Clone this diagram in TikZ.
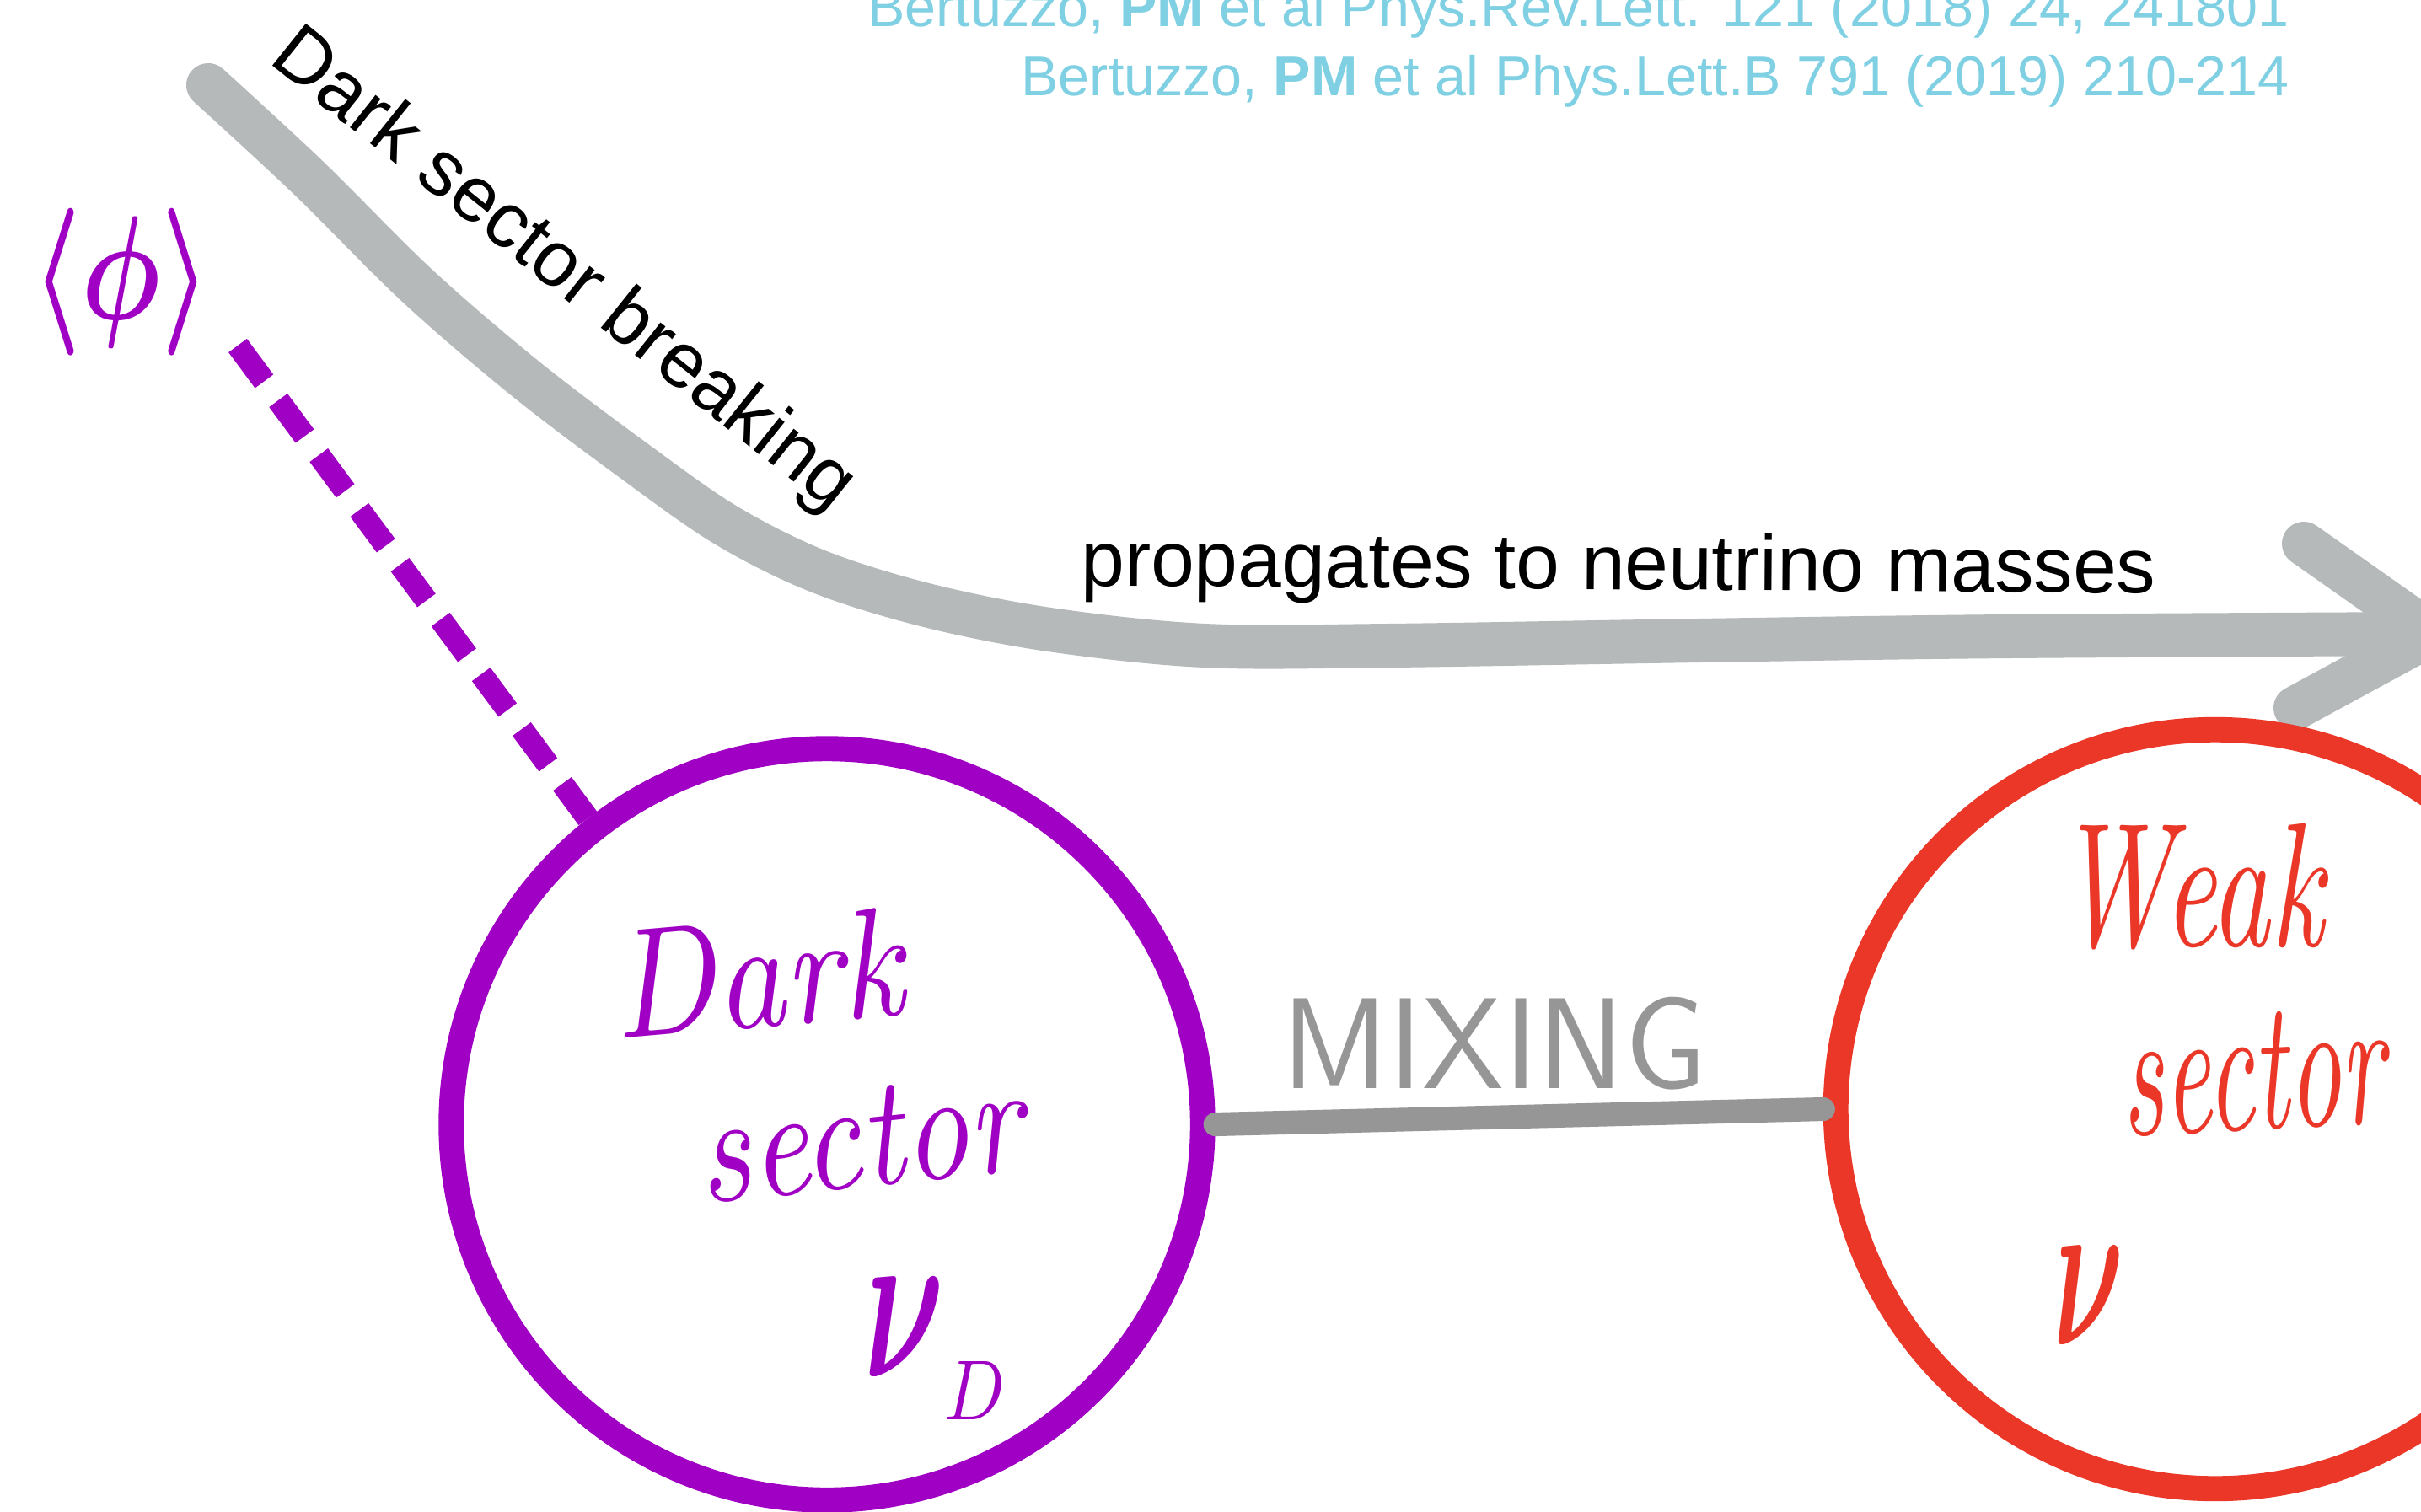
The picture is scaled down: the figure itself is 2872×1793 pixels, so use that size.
\documentclass[tikz,border=0pt]{standalone}
\usepackage{fontspec}
\usepackage{graphicx}
\newfontfamily\arial{Liberation Sans}
\definecolor{citeblue}{RGB}{128,208,228}
\definecolor{dpurple}{RGB}{160,0,196}
\definecolor{wred}{RGB}{234,55,40}
\definecolor{arrowgray}{RGB}{181,185,185}
\definecolor{mixgray}{RGB}{150,150,150}
\begin{document}
\begin{tikzpicture}[x=0.01cm,y=-0.01cm,
  sectorcircle/.style={circle, line width=8.5pt, inner sep=0pt, fill=none},
  bigarrow/.style={draw=arrowgray, line width=14.8pt, line cap=round, line join=round},
  vevline/.style={draw=dpurple, line width=7.7pt, dash pattern=on 15pt off 8pt},
  mixline/.style={draw=mixgray, line width=8pt, line cap=round},
  hand/.style={inner sep=0pt, outer sep=0pt},
  citetext/.style={anchor=base east, inner sep=0pt, text=citeblue, font=\arial\fontsize{18.9}{22}\selectfont},
  labeltext/.style={anchor=base west, inner sep=0pt, text=black, font=\arial\fontsize{26.4}{30}\selectfont}]
\useasboundingbox (0,0) rectangle (2872,1793);
\clip (0,0) rectangle (2872,1793);
\fill[white] (0,0) rectangle (2872,1793);

% citations
\node[citetext] (cite1) at (2716,31) {Bertuzzo, \textbf{PM} et al Phys.Rev.Lett. 121 (2018) 24, 241801};
\node[citetext] (cite2) at (2716,113) {Bertuzzo, \textbf{PM} et al Phys.Lett.B 791 (2019) 210-214};

% big gray arrow
\coordinate (arrstart) at (247,101);
\coordinate (tip) at (2885,752);
\coordinate (ub) at (2733,645);
\coordinate (lb) at (2723,840);
\draw[bigarrow] plot[smooth, tension=0.55] coordinates {(247,101) (366,211) (495,339) (623,449) (751,546) (861,623) (971,678) (1099,718) (1245,747) (1429,766) (1648,766) (2015,760) (2381,755) (2885,752)};
\draw[bigarrow] (ub) -- (tip) -- (lb);

% labels of the arrow
\node[labeltext, rotate=-38.6] (breaking) at (317,73) {Dark sector breaking};
\node[labeltext, rotate=-0.4] (propagates) at (1282,695) {propagates to neutrino masses};

% sectors
\node[sectorcircle, draw=dpurple, minimum size=8.91cm] (dark) at (981,1334) {};
\node[sectorcircle, draw=wred, minimum size=9.0cm] (weak) at (2628,1316) {};

% vev
\node[hand, text=dpurple] (vev) at (144,335) {\resizebox*{2.12cm}{1.75cm}{\boldmath$\langle\phi\rangle$}};
\coordinate (vevtop) at (282,410);
\draw[vevline] (vevtop) -- (dark.128);

% mixing
\draw[mixline] (dark.east) -- (weak.west);
\node[hand, text=mixgray] (mixing) at (1772,1238) {\resizebox*{5.03cm}{1.10cm}{\sffamily MIXING}};

% handwritten texts
\node[hand, text=dpurple, rotate=5] (darkw) at (898,1155) {\resizebox*{3.45cm}{1.30cm}{\itshape Dark}};
\node[hand, text=dpurple, rotate=6] (darks) at (1019,1351) {\resizebox*{3.85cm}{1.18cm}{\itshape sector}};
\node[hand, text=dpurple] (nuD) at (1073,1575) {\resizebox*{0.95cm}{1.17cm}{\boldmath$\nu$}};
\node[hand, text=dpurple] (subD) at (1157,1650) {\resizebox*{0.72cm}{0.69cm}{$D$}};

\node[hand, text=wred] (weakw) at (2598,1052) {\resizebox*{3.16cm}{1.50cm}{\itshape Weak}};
\node[hand, text=wred, rotate=3] (weaks) at (2672,1272) {\resizebox*{3.12cm}{1.40cm}{\itshape sector}};
\node[hand, text=wred] (nuW) at (2478,1537) {\resizebox*{0.83cm}{1.16cm}{\boldmath$\nu$}};
\end{tikzpicture}
\end{document}
